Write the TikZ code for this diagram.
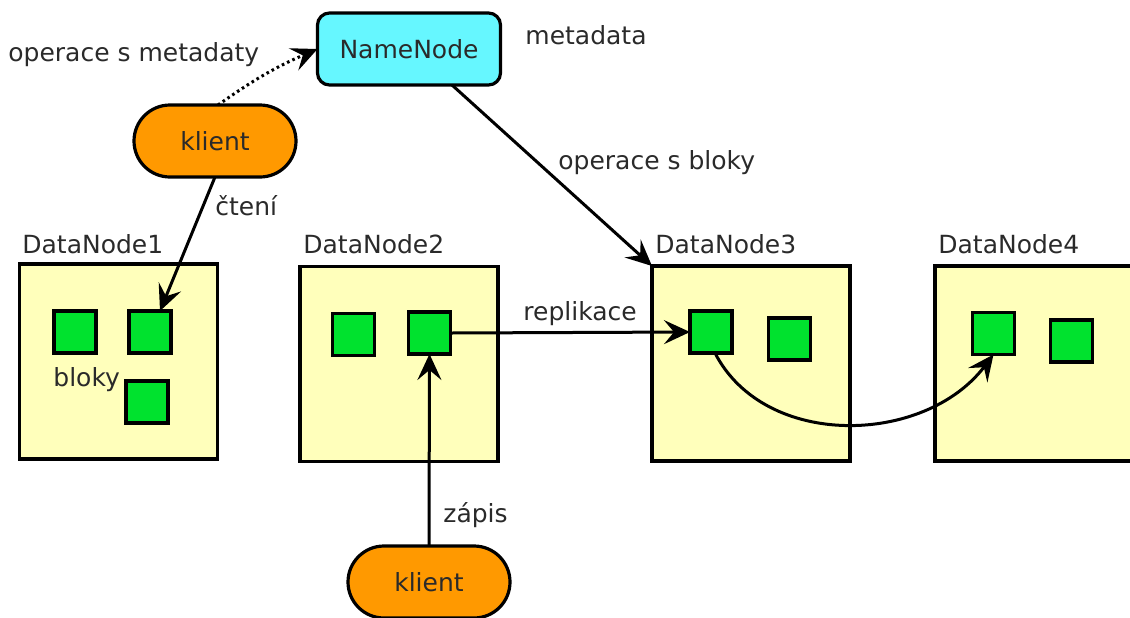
\documentclass[tikz,border=0pt]{standalone}
\usepackage{fontspec}
\setmainfont{DejaVu Sans}
\usetikzlibrary{arrows.meta,calc,shapes.misc}
\definecolor{boxyellow}{HTML}{FFFFBB}
\definecolor{blockgreen}{HTML}{00E22E}
\definecolor{clientorange}{HTML}{FF9900}
\definecolor{namecyan}{HTML}{66F7FF}
\definecolor{txt}{HTML}{2A2A2A}
\begin{document}
\begin{tikzpicture}[x=0.5pt,y=-0.5pt,
  every node/.style={font=\fontsize{12.5}{15}\selectfont, text=txt},
  dnbox/.style={draw=black, line width=1.7pt, fill=boxyellow, minimum width=99pt, minimum height=97.5pt, inner sep=0pt, outer sep=0pt},
  blk/.style={draw=black, line width=1.8pt, fill=blockgreen, minimum width=21pt, minimum height=21pt, inner sep=0pt, outer sep=0pt},
  client/.style={draw=black, line width=1.6pt, fill=clientorange, rounded rectangle, minimum width=81pt, minimum height=36pt, inner sep=0pt, outer sep=0pt},
  lbl/.style={anchor=base west, inner sep=0pt},
  conn/.style={line width=1.5pt, -{Stealth[length=13pt,width=12pt,inset=5pt]}}
]
\useasboundingbox (0,0) rectangle (1130,617);
\clip (0,0) rectangle (1130,617);

% DataNode boxes
\node[dnbox] (dn1) at (118.5,361.5) {};
\node[dnbox] (dn2) at (399,364) {};
\node[dnbox] (dn3) at (751,363.5) {};
\node[dnbox, minimum width=150pt] (dn4) at (1085,363.5) {};

\node[lbl] (l1) at (22,253) {DataNode1};
\node[lbl] (l2) at (303,253) {DataNode2};
\node[lbl] (l3) at (655,253) {DataNode3};
\node[lbl] (l4) at (938,253) {DataNode4};

% blocks
\node[blk] (b11) at (75,332) {};
\node[blk] (b12) at (150,332) {};
\node[blk] (b13) at (147,402) {};
\node[blk] (b21) at (353.5,334.5) {};
\node[blk] (b22) at (429.5,333) {};
\node[blk] (b31) at (711,332) {};
\node[blk] (b32) at (789.5,339) {};
\node[blk] (b41) at (993.5,333.5) {};
\node[blk] (b42) at (1071.5,341) {};

\node[lbl] (bl) at (53,386) {bloky};

% NameNode
\node[draw=black, line width=1.6pt, fill=namecyan, rounded corners=6pt, minimum width=91.5pt, minimum height=36pt, inner sep=0pt, outer sep=0pt] (nn) at (409,49) {NameNode};
\node[lbl] (md) at (525,44) {metadata};

% clients
\node[client] (k1) at (215,141) {klient};
\node[client] (k2) at (429,582) {klient};

% labels
\node[lbl] (om) at (8,61) {operace s metadaty};
\node[lbl] (ob) at (558,169) {operace s bloky};
\node[lbl] (ct) at (215,215) {čtení};
\node[lbl] (rp) at (523,320) {replikace};
\node[lbl] (zp) at (443,522) {zápis};

% connectors
\draw[conn, dash pattern=on 1.3pt off 1.6pt] ($(k1.north)+(3,0)$) to[bend left=6] (nn.west);
\draw[conn] ($(nn.south)+(43,0)$) -- (dn3.north west);
\draw[conn] (k1.south) -- ($(b12.north)+(10,0)$);
\draw[conn] (b22.east) -- (b31.west);
\draw[conn] (k2.north) -- (b22.south);
\draw[conn] ($(b31.south)+(4,0)$) .. controls (765,450) and (925,445) .. (b41.south);
\end{tikzpicture}
\end{document}
